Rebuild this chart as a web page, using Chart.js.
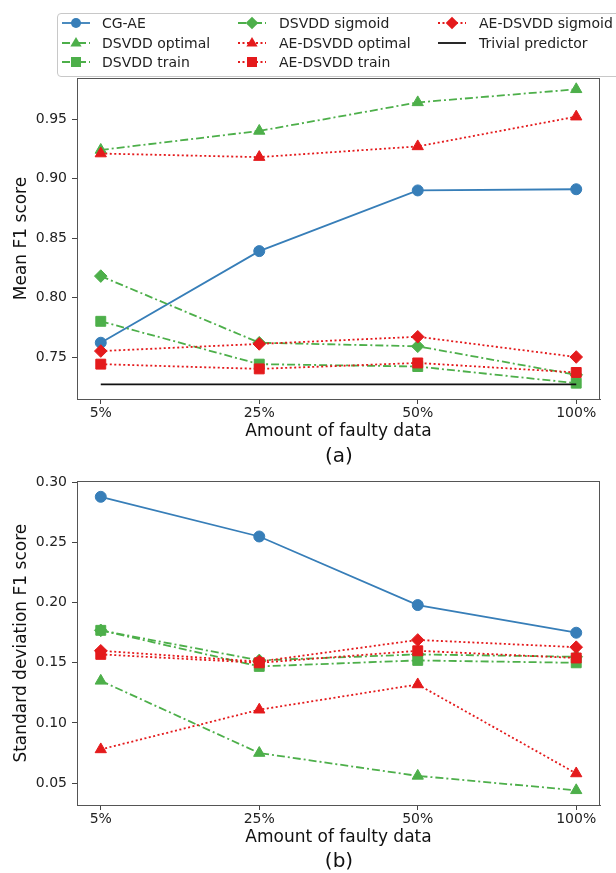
<!DOCTYPE html>
<html>
<head>
<meta charset="utf-8">
<script src="https://cdn.jsdelivr.net/npm/chart.js@4.4.1/dist/chart.umd.min.js"></script>
<style>
  html, body { margin:0; padding:0; background:#fff; width:616px; height:873px; overflow:hidden; font-family:"DejaVu Sans", sans-serif; }
  canvas { position:absolute; left:0; }
  #ca { top:0; }
  #cb { top:468px; }
  .cap { position:absolute; width:120px; text-align:center; font-size:20px; line-height:24px; color:#111; }
  #legbox { position:absolute; left:57px; top:13px; width:580px; height:62px; border:1px solid #c8c8c8; border-radius:4px; background:rgba(255,255,255,0.92); }
  .li { position:absolute; height:20px; font-size:14px; line-height:20px; color:#222; white-space:nowrap; }
  .li svg { position:absolute; left:0; top:0; }
  .li span { position:absolute; top:0; }
</style>
</head>
<body>
<canvas id="ca" width="616" height="468"></canvas>
<canvas id="cb" width="616" height="405"></canvas>
<div class="cap" style="left:279px; top:443px;">(a)</div>
<div class="cap" style="left:279px; top:848px;">(b)</div>
<div id="legbox"></div>
<div id="legend"></div>
<script>
// ---------------- data ----------------
const categories = ['5%', '25%', '50%', '100%'];
const seriesNames = ['CG-AE', 'DSVDD optimal', 'DSVDD train', 'DSVDD sigmoid',
                     'AE-DSVDD optimal', 'AE-DSVDD train', 'AE-DSVDD sigmoid', 'Trivial predictor'];

// (a) Mean F1 score
const meanCgae       = [0.762, 0.839, 0.890, 0.891];
const meanDsvddOpt   = [0.924, 0.940, 0.964, 0.975];
const meanDsvddTrain = [0.780, 0.744, 0.742, 0.728];
const meanDsvddSig   = [0.818, 0.762, 0.759, 0.735];
const meanAeOpt      = [0.921, 0.918, 0.927, 0.952];
const meanAeTrain    = [0.744, 0.740, 0.745, 0.737];
const meanAeSig      = [0.755, 0.761, 0.767, 0.750];
const meanTrivial    = [0.727, 0.727, 0.727, 0.727];

// (b) Standard deviation F1 score
const stdCgae       = [0.288, 0.255, 0.198, 0.175];
const stdDsvddOpt   = [0.135, 0.075, 0.056, 0.044];
const stdDsvddTrain = [0.177, 0.147, 0.152, 0.150];
const stdDsvddSig   = [0.177, 0.152, 0.157, 0.155];
const stdAeOpt      = [0.078, 0.111, 0.132, 0.058];
const stdAeTrain    = [0.157, 0.150, 0.160, 0.154];
const stdAeSig      = [0.160, 0.151, 0.169, 0.163];

const meanTicks = [0.75, 0.80, 0.85, 0.90, 0.95];
const stdTicks  = [0.05, 0.10, 0.15, 0.20, 0.25, 0.30];

// ---------------- styles ----------------
const BLUE = '#377eb8', GREEN = '#4daf4a', RED = '#e41a1c', BLACK = '#111111';
const DASHDOT = [8, 3, 2, 3], DOT = [2, 2.5];
const styles = [
  { color: BLUE,  dash: [],      point: 'circle',   r: 5.5 },
  { color: GREEN, dash: DASHDOT, point: 'triangle', r: 6.5 },
  { color: GREEN, dash: DASHDOT, point: 'rect',     r: 7 },
  { color: GREEN, dash: DASHDOT, point: 'rectRot',  r: 6.3 },
  { color: RED,   dash: DOT,     point: 'triangle', r: 6.5 },
  { color: RED,   dash: DOT,     point: 'rect',     r: 7 },
  { color: RED,   dash: DOT,     point: 'rectRot',  r: 6.3 },
  { color: BLACK, dash: [],      point: false,      r: 0 }
];

Chart.defaults.font.family = '"DejaVu Sans", sans-serif';
Chart.defaults.color = '#222';

function buildDatasets(seriesList) {
  const n = seriesList.length;
  return seriesList.map((vals, i) => {
    const st = styles[i];
    return {
      label: seriesNames[i],
      data: vals.map((v, k) => ({ x: k, y: v })),
      borderColor: st.color,
      backgroundColor: st.color,
      borderWidth: 1.8,
      borderDash: st.dash,
      pointStyle: st.point,
      pointRadius: st.r,
      pointBackgroundColor: st.color,
      pointBorderColor: st.color,
      pointBorderWidth: 1,
      tension: 0,
      fill: false,
      order: n - i
    };
  });
}

const framePlugin = {
  id: 'frame',
  afterDraw(chart) {
    const a = chart.chartArea, ctx = chart.ctx;
    ctx.save();
    ctx.strokeStyle = '#555';
    ctx.lineWidth = 1;
    ctx.strokeRect(Math.round(a.left) + 0.5, Math.round(a.top) + 0.5,
                   Math.round(a.right - a.left) - 1, Math.round(a.bottom - a.top));
    ctx.restore();
  }
};

function makeChart(id, seriesList, yMin, yMax, yTicks, yTitle, padTop, padBottom) {
  return new Chart(document.getElementById(id), {
    type: 'line',
    data: { datasets: buildDatasets(seriesList) },
    plugins: [framePlugin],
    options: {
      responsive: false,
      animation: false,
      devicePixelRatio: 1,
      layout: { padding: { top: padTop, right: 16, left: 0, bottom: padBottom } },
      plugins: { legend: { display: false }, tooltip: { enabled: false } },
      scales: {
        x: {
          type: 'linear', min: -0.15, max: 3.15,
          afterBuildTicks: s => { s.ticks = categories.map((c, i) => ({ value: i })); },
          ticks: { callback: v => categories[v], font: { size: 14 }, color: '#222', padding: 1, maxRotation: 0, autoSkip: false },
          grid: { drawOnChartArea: false, drawTicks: true, tickLength: 5, color: '#444' },
          border: { display: true, color: '#555', width: 1 },
          title: { display: true, text: 'Amount of faulty data', font: { size: 17 }, color: '#111', padding: { top: 0, bottom: 1 } },
          afterFit: s => { s.height = 44; }
        },
        y: {
          min: yMin, max: yMax,
          afterBuildTicks: s => { s.ticks = yTicks.map(v => ({ value: v })); },
          ticks: { callback: v => v.toFixed(2), font: { size: 14 }, color: '#222', padding: 5 },
          grid: { drawOnChartArea: false, drawTicks: true, tickLength: 5, color: '#444' },
          border: { display: true, color: '#555', width: 1 },
          title: { display: true, text: yTitle, font: { size: 17 }, color: '#111', padding: { top: 11, bottom: 0 } },
          afterFit: s => { s.width = 77; }
        }
      }
    }
  });
}

makeChart('ca',
  [meanCgae, meanDsvddOpt, meanDsvddTrain, meanDsvddSig, meanAeOpt, meanAeTrain, meanAeSig, meanTrivial],
  0.7147, 0.9845, meanTicks, 'Mean F1 score', 78, 25);

makeChart('cb',
  [stdCgae, stdDsvddOpt, stdDsvddTrain, stdDsvddSig, stdAeOpt, stdAeTrain, stdAeSig],
  0.0318, 0.3008, stdTicks, 'Standard deviation F1 score', 12, 24);

// ---------------- legend (HTML, 3 columns, column-major) ----------------
function markerSvg(st) {
  const cx = 14, cy = 10;
  const dash = st.dash.length ? ` stroke-dasharray="${st.dash.join(',')}"` : '';
  let m = '';
  if (st.point === 'circle') m = `<circle cx="${cx}" cy="${cy}" r="5" fill="${st.color}"/>`;
  else if (st.point === 'triangle') m = `<polygon points="${cx},${cy-6} ${cx+5.6},${cy+3.5} ${cx-5.6},${cy+3.5}" fill="${st.color}"/>`;
  else if (st.point === 'rect') m = `<rect x="${cx-5}" y="${cy-5}" width="10" height="10" fill="${st.color}"/>`;
  else if (st.point === 'rectRot') m = `<polygon points="${cx},${cy-6.3} ${cx+6.3},${cy} ${cx},${cy+6.3} ${cx-6.3},${cy}" fill="${st.color}"/>`;
  return `<svg width="30" height="20"><line x1="0" y1="10" x2="28" y2="10" stroke="${st.color}" stroke-width="1.8"${dash}/>${m}</svg>`;
}
const colX = [62, 238, 438];
const textOff = [40, 41, 41];
const rowY = [13, 33, 52];
const leg = document.getElementById('legend');
seriesNames.forEach((name, i) => {
  const col = Math.floor(i / 3), row = i % 3;
  const d = document.createElement('div');
  d.className = 'li';
  d.style.left = colX[col] + 'px';
  d.style.top = rowY[row] + 'px';
  d.innerHTML = markerSvg(styles[i]) + `<span style="left:${textOff[col]}px">${name}</span>`;
  leg.appendChild(d);
});
</script>
</body>
</html>
